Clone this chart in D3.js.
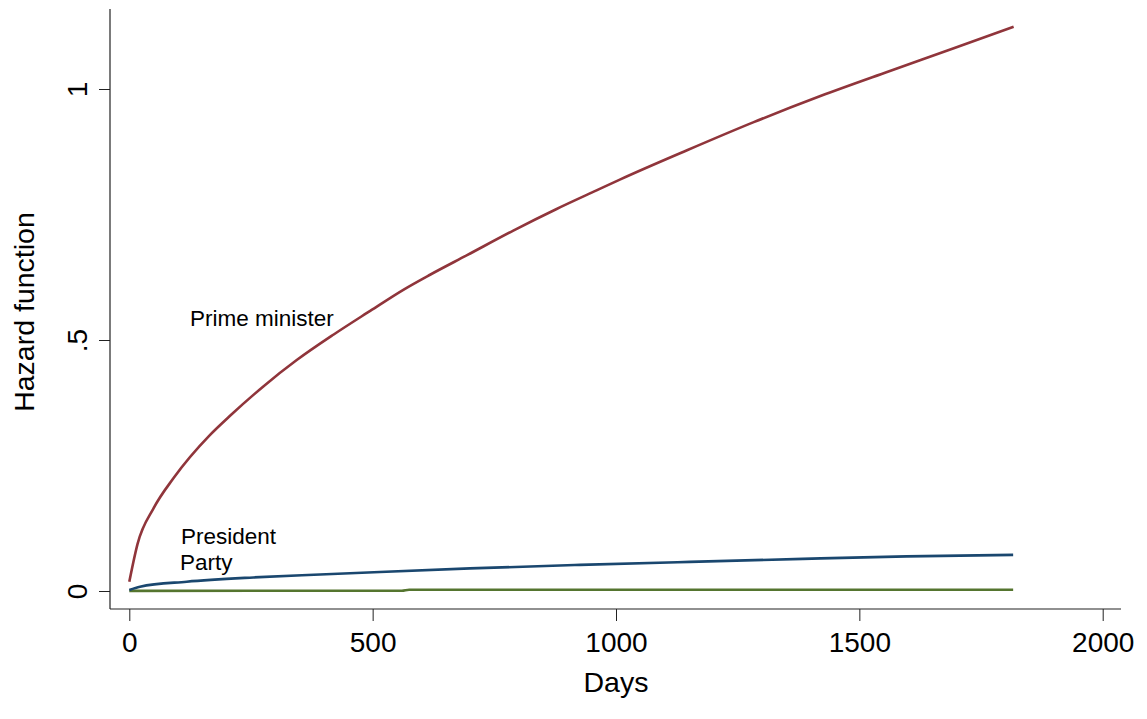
<!DOCTYPE html>
<html><head><meta charset="utf-8">
<script src="https://cdn.jsdelivr.net/npm/d3@7"></script>
<style>body{margin:0;background:#fff}svg{display:block;font-family:"Liberation Sans",Arial,sans-serif}</style>
</head><body><svg id="c" width="1147" height="719"></svg>
<script>
const pmDays = [0, 17, 50, 91, 166, 207, 276, 344, 420, 495, 563, 618, 694, 789, 878, 960, 1009, 1146, 1283, 1420, 1557, 1694, 1817];
const pmVals = [0.0185, 0.094, 0.165, 0.225, 0.311, 0.349, 0.408, 0.460, 0.511, 0.558, 0.600, 0.630, 0.669, 0.718, 0.761, 0.798, 0.820, 0.878, 0.934, 0.986, 1.034, 1.081, 1.124];
const presDays = [0, 22, 118, 255, 392, 515, 700, 926, 1152, 1384, 1597, 1816];
const presVals = [0.002, 0.0086, 0.0185, 0.027, 0.033, 0.038, 0.045, 0.052, 0.058, 0.064, 0.069, 0.072];
const partyDays = [0, 560, 575, 1816];
const partyVals = [0.0003, 0.0005, 0.0025, 0.0025];
const xTicks = [0, 500, 1000, 1500, 2000];
const yTicks = [0, 0.5, 1];
const yTickLabels = ["0", ".5", "1"];

const svg = d3.select("#c");
const x = d3.scaleLinear().domain([0, 2000]).range([129.3, 1102.7]);
const y = d3.scaleLinear().domain([0, 1]).range([591, 89]);
const axisColor = "#222";
const FONT = "Liberation Sans, Arial, sans-serif";

// axes
const gx = svg.append("g").attr("transform", "translate(0,609)")
  .call(d3.axisBottom(x).tickValues(xTicks).tickFormat(d3.format("d")).tickSize(12).tickPadding(11).tickSizeOuter(0));
gx.select(".domain").remove();
gx.selectAll(".tick line").attr("stroke", axisColor);
gx.selectAll(".tick text").attr("font-size", 28).attr("fill", "#000").attr("font-family", FONT);
svg.append("line").attr("x1", 110).attr("x2", 1121).attr("y1", 609).attr("y2", 609).attr("stroke", axisColor).attr("stroke-width", 1.2);

const gy = svg.append("g").attr("transform", "translate(110,0)")
  .call(d3.axisLeft(y).tickValues(yTicks).tickFormat((d, i) => yTickLabels[i]).tickSize(11).tickSizeOuter(0));
gy.select(".domain").remove();
gy.selectAll(".tick line").attr("stroke", axisColor);
gy.selectAll(".tick text").remove();
gy.selectAll(".tick").append("text")
  .attr("transform", "translate(-23,0) rotate(-90)")
  .attr("text-anchor", "middle").attr("font-size", 28).attr("fill", "#000")
  .attr("font-family", FONT)
  .text((d, i) => yTickLabels[i]);
svg.append("line").attr("x1", 110).attr("x2", 110).attr("y1", 9).attr("y2", 609).attr("stroke", axisColor).attr("stroke-width", 1.2);

// titles
svg.append("text").attr("x", 616).attr("y", 692).attr("text-anchor", "middle").attr("font-size", 28.5).text("Days");
svg.append("text").attr("transform", "translate(34,312) rotate(-90)").attr("text-anchor", "middle").attr("font-size", 28.5).text("Hazard function");

// lines
const line = d3.line().x(d => x(d[0])).y(d => y(d[1])).curve(d3.curveMonotoneX);
const series = [
  {days: partyDays, vals: partyVals, color: "#55752f"},
  {days: presDays, vals: presVals, color: "#1a476f"},
  {days: pmDays, vals: pmVals, color: "#90353b"}
];
series.forEach(s => {
  svg.append("path").datum(s.days.map((d, i) => [d, s.vals[i]]))
    .attr("d", line).attr("fill", "none").attr("stroke", s.color).attr("stroke-width", 2.6);
});

// labels
svg.append("text").attr("x", 190).attr("y", 326).attr("font-size", 22.5).text("Prime minister");
svg.append("text").attr("x", 181).attr("y", 544).attr("font-size", 22.5).text("President");
svg.append("text").attr("x", 180).attr("y", 570).attr("font-size", 22.5).text("Party");
</script></body></html>
